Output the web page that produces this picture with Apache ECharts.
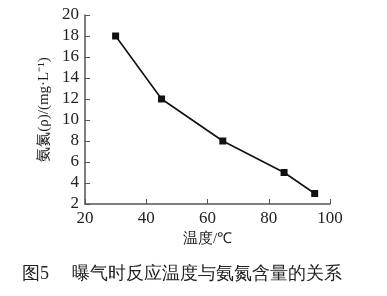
<!DOCTYPE html>
<html><head><meta charset="utf-8">
<script src="https://cdn.jsdelivr.net/npm/echarts@6/dist/echarts.min.js"></script>
<style>html,body{margin:0;padding:0;background:#fff;}#c{width:387px;height:296px;}</style>
</head><body><div id="c"></div>
<script>
const temps = [30, 45, 65, 85, 95];
const ammonia = [18, 12, 8, 5, 3];
const xTitle = '温度/℃';
const yTitle = '氨氮(ρ)/(mg·L⁻¹)';
const caption = '图5　 曝气时反应温度与氨氮含量的关系';

const serif = 'Liberation Serif';
const axisColor = '#555';
const chart = echarts.init(document.getElementById('c'));
chart.setOption({
  animation: false,
  backgroundColor: '#fff',
  grid: {left: 85, right: 57, top: 15, bottom: 92},
  xAxis: {
    type: 'value', min: 20, max: 100, interval: 20,
    name: xTitle, nameLocation: 'middle', nameGap: 27,
    nameTextStyle: {fontFamily: serif, fontSize: 15, color: '#222'},
    axisLine: {lineStyle: {color: axisColor, width: 1.5}},
    axisTick: {inside: true, length: 5, lineStyle: {color: axisColor}},
    axisLabel: {fontFamily: serif, fontSize: 17, color: '#222', margin: 6},
    splitLine: {show: false}
  },
  yAxis: {
    type: 'value', min: 2, max: 20, interval: 2,
    name: yTitle, nameLocation: 'middle', nameGap: 30,
    nameTextStyle: {fontFamily: serif, fontSize: 15, color: '#222'},
    axisLine: {show: true, lineStyle: {color: axisColor, width: 1.5}},
    axisTick: {show: true, inside: true, length: 5, lineStyle: {color: axisColor}},
    axisLabel: {fontFamily: serif, fontSize: 17, color: '#222', margin: 6},
    splitLine: {show: false}
  },
  series: [{
    type: 'line',
    data: temps.map((t, i) => [t, ammonia[i]]),
    symbol: 'rect', symbolSize: 7,
    itemStyle: {color: '#111'},
    lineStyle: {color: '#111', width: 1.6}
  }],
  graphic: [{
    type: 'text', left: 22, top: 265,
    style: {text: caption, fontFamily: serif, fontSize: 18, fill: '#222'}
  }]
});
</script></body></html>
